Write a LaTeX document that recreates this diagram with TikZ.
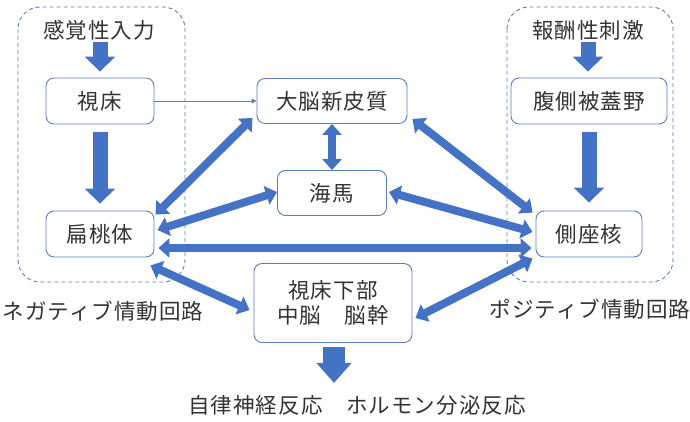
\documentclass[tikz,border=0pt]{standalone}
\usepackage{fontspec}
\setmainfont[LetterSpace=5]{Noto Sans CJK JP}
\usetikzlibrary{arrows.meta,calc}
\definecolor{ablue}{HTML}{4472C4}
\definecolor{bblue}{HTML}{5B7EC2}
\definecolor{txt}{HTML}{333333}
\begin{document}
\begin{tikzpicture}[x=1pt,y=-1pt,
  every node/.style={text=txt,font=\fontsize{21.5}{25}\selectfont},
  boxn/.style={draw=bblue,line width=0.9pt,rounded corners=8pt,inner sep=0pt,align=center},
  plain/.style={inner sep=0pt},
  region/.style={draw=bblue,line width=0.9pt,dash pattern=on 4pt off 3pt,rounded corners=22pt},
  dbl/.style={draw=ablue,line width=8pt,{Triangle[width=19pt,length=11pt]}-{Triangle[width=19pt,length=11pt]}},
  bigarrow/.style={draw=ablue,line width=15pt,-{Triangle[width=30pt,length=15pt]}},
  thin/.style={draw=bblue,line width=0.6pt,-{Triangle[width=5pt,length=5pt]}}
]
\useasboundingbox (0,0) rectangle (690,422);
% dashed regions
\draw[region] (18,7) rectangle (185,282);
\draw[region] (507,7) rectangle (673,282);
% nodes
\node[plain] (sens) at (99,30) {感覚性入力};
\node[plain] (rew) at (588,30) {報酬性刺激};
\node[boxn,minimum width=108pt,minimum height=46pt] (thal) at (100,101) {視床};
\node[boxn,minimum width=108pt,minimum height=46pt] (amy) at (100,234) {扁桃体};
\node[boxn,minimum width=156pt,minimum height=46pt] (vta) at (589,101) {腹側被蓋野};
\node[boxn,minimum width=106pt,minimum height=46pt] (nac) at (589,234) {側座核};
\node[boxn,minimum width=150pt,minimum height=45pt] (ctx) at (332,101) {大脳新皮質};
\node[boxn,minimum width=109pt,minimum height=45pt] (hip) at (332,193) {海馬};
\node[boxn,minimum width=158pt,minimum height=79pt] (hyp) at (333,303) {視床下部\\中脳　脳幹};
\node[plain] (neg) at (103,311) {ネガティブ情動回路};
\node[plain] (pos) at (590,309) {ポジティブ情動回路};
\node[plain] (out) at (357,405) {自律神経反応　ホルモン分泌反応};
% big arrows
\draw[bigarrow] ($(thal.north)+(0,-36)$) -- ($(thal.north)+(0,-6)$);
\draw[bigarrow] ($(thal.south)+(0,8)$) -- ($(amy.north)+(0,-7)$);
\draw[bigarrow] ($(vta.north)+(-1,-36)$) -- ($(vta.north)+(-1,-6)$);
\draw[bigarrow] ($(vta.south)+(0,8)$) -- ($(nac.north)+(0,-8)$);
\draw[draw=ablue,line width=22pt,-{Triangle[width=34pt,length=20pt]}] ($(hyp.south)+(1,4)$) -- ($(hyp.south)+(1,40)$);
% thin arrow
\draw[thin] (thal.east) -- (ctx.west);
% double arrows
\draw[dbl] ($(ctx.south west)+(-4,-6)$) -- ($(amy.north east)+(1,4)$);
\draw[dbl] ($(hip.west)+(0,-1)$) -- ($(amy.east)+(3,-4)$);
\draw[dbl] ($(amy.east)+(4,14)$) -- ($(nac.west)+(-4,14)$);
\draw[dbl] ($(amy.south east)+(-4,8)$) -- ($(hyp.west)+(-4,7)$);
\draw[dbl] (ctx.south) -- (hip.north);
\draw[dbl] ($(ctx.south east)+(5,-5)$) -- ($(nac.north west)+(-3,2)$);
\draw[dbl] ($(hip.east)+(2,-1)$) -- ($(nac.west)+(-3,-2)$);
\draw[dbl] ($(hyp.east)+(3,15)$) -- ($(nac.south west)+(-3,1)$);
\end{tikzpicture}
\end{document}
